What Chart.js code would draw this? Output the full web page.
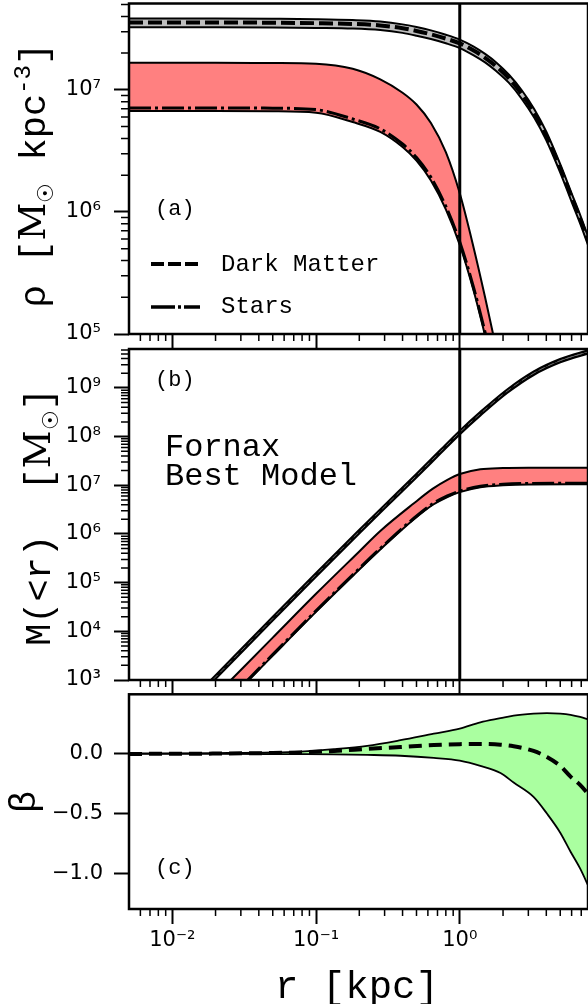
<!DOCTYPE html>
<html>
<head>
<meta charset="utf-8">
<script src="https://cdn.jsdelivr.net/npm/chart.js@4.4.1/dist/chart.umd.min.js"></script>
<style>
  html, body { margin: 0; padding: 0; background: #fff; }
  #wrap { position: relative; width: 588px; height: 1004px; overflow: hidden; }
  canvas { position: absolute; left: 0; }
</style>
</head>
<body>
<div id="wrap">
  <canvas id="rho" width="600" height="350" style="top:0px"></canvas>
  <canvas id="mass" width="600" height="356" style="top:340px"></canvas>
  <canvas id="beta" width="600" height="319" style="top:685px"></canvas>
</div>
<script>
// ---- data (r in kpc) ----
const X_MIN = 0.005, X_MAX = 7.8;
const rMarker = 1.0;

const xTickVals = [0.01, 0.1, 1];
const xTickText = ['10⁻²', '10⁻¹', '10⁰'];
const rhoTickVals = [1e5, 1e6, 1e7];
const rhoTickText = ['10⁵', '10⁶', '10⁷'];
const massTickVals = [1e3, 1e4, 1e5, 1e6, 1e7, 1e8, 1e9];
const massTickText = ['10³', '10⁴', '10⁵', '10⁶', '10⁷', '10⁸', '10⁹'];
const betaTickVals = [-1, -0.5, 0];
const betaTickText = ['−1.0', '−0.5', '0.0'];

// (a) density
const rRho = [0.005, 0.02, 0.05, 0.1, 0.18, 0.28, 0.4, 0.5, 0.63, 0.8, 1.0, 1.25, 1.5, 1.8, 2.2, 2.7, 3.3, 4.0, 5.0, 6.0, 7.0, 8.0];
const rhoDmHi  = [3.84e7, 3.84e7, 3.82e7, 3.79e7, 3.73e7, 3.63e7, 3.44e7, 3.27e7, 3.07e7, 2.83e7, 2.58e7, 2.26e7, 1.97e7, 1.67e7, 1.33e7, 9.93e6, 6.95e6, 4.54e6, 2.46e6, 1.42e6, 8.95e5, 5.78e5];
const rhoDmMid = [3.56e7, 3.56e7, 3.55e7, 3.52e7, 3.47e7, 3.37e7, 3.20e7, 3.04e7, 2.85e7, 2.63e7, 2.40e7, 2.10e7, 1.83e7, 1.55e7, 1.24e7, 9.23e6, 6.46e6, 4.22e6, 2.29e6, 1.32e6, 8.32e5, 5.37e5];
const rhoDmLo  = [3.26e7, 3.26e7, 3.25e7, 3.22e7, 3.18e7, 3.09e7, 2.93e7, 2.78e7, 2.61e7, 2.41e7, 2.20e7, 1.92e7, 1.68e7, 1.42e7, 1.14e7, 8.45e6, 5.92e6, 3.87e6, 2.10e6, 1.21e6, 7.62e5, 4.92e5];

const rRhoStar = [0.005, 0.02, 0.05, 0.1, 0.18, 0.28, 0.4, 0.5, 0.63, 0.8, 1.0, 1.25, 1.5, 1.8, 2.2];
const rhoStarHi  = [1.67e7, 1.67e7, 1.66e7, 1.64e7, 1.49e7, 1.22e7, 9.48e6, 7.59e6, 5.36e6, 3.09e6, 1.42e6, 5.07e5, 2.00e5, 7.46e4, 2.43e4];
const rhoStarMid = [7.11e6, 7.11e6, 7.08e6, 6.89e6, 5.77e6, 4.79e6, 3.60e6, 2.79e6, 1.92e6, 1.11e6, 5.68e5, 2.38e5, 1.03e5, 4.13e4, 1.43e4];
const rhoStarLo  = [6.71e6, 6.71e6, 6.68e6, 6.50e6, 5.45e6, 4.52e6, 3.40e6, 2.63e6, 1.81e6, 1.05e6, 5.36e5, 2.25e5, 9.70e4, 3.90e4, 1.35e4];

// (b) enclosed mass
const rMassDm = [0.005, 0.01, 0.02, 0.05, 0.1, 0.2, 0.3, 0.5, 0.734, 1.0, 1.39, 2.13, 3.26, 5.0, 8.0];
const massDmHi  = [19.5, 155, 1.23e3, 1.95e4, 1.55e5, 1.20e6, 3.88e6, 1.69e7, 5.24e7, 1.30e8, 3.16e8, 9.10e8, 2.14e9, 3.88e9, 6.01e9];
const massDmMid = [18.2, 145, 1.15e3, 1.82e4, 1.45e5, 1.12e6, 3.63e6, 1.58e7, 4.90e7, 1.22e8, 2.95e8, 8.51e8, 2.00e9, 3.63e9, 5.62e9];
const massDmLo  = [16.9, 135, 1.07e3, 1.69e4, 1.35e5, 1.04e6, 3.38e6, 1.47e7, 4.56e7, 1.13e8, 2.74e8, 7.92e8, 1.86e9, 3.38e9, 5.23e9];

const rMassStar = [0.005, 0.01, 0.02, 0.05, 0.1, 0.2, 0.28, 0.48, 0.65, 0.82, 1.0, 1.39, 2.0, 3.0, 8.0];
const massStarHi  = [7.41, 60.3, 479, 7.41e3, 5.89e4, 4.37e5, 1.15e6, 4.27e6, 8.51e6, 1.29e7, 1.70e7, 2.14e7, 2.26e7, 2.29e7, 2.29e7];
const massStarMid = [3.32, 26.4, 210, 3.32e3, 2.64e4, 1.95e5, 5.03e5, 2.10e6, 4.18e6, 6.04e6, 7.60e6, 9.58e6, 1.05e7, 1.09e7, 1.10e7];
const massStarLo  = [3.16, 25.1, 200, 3.16e3, 2.51e4, 1.86e5, 4.79e5, 2.00e6, 3.98e6, 5.75e6, 7.24e6, 9.12e6, 1.00e7, 1.04e7, 1.05e7];

// (c) anisotropy
const rBeta = [0.005, 0.02, 0.05, 0.078, 0.133, 0.227, 0.387, 0.66, 1.0, 1.39, 1.92, 2.37, 3.26, 4.04, 5.0, 5.9, 6.87, 8.0];
const betaHi  = [0.004, 0.007, 0.012, 0.02, 0.04, 0.068, 0.115, 0.17, 0.212, 0.265, 0.30, 0.322, 0.338, 0.342, 0.338, 0.328, 0.31, 0.285];
const betaMid = [0.0, 0.003, 0.008, 0.013, 0.025, 0.042, 0.058, 0.075, 0.082, 0.084, 0.078, 0.065, 0.025, -0.025, -0.10, -0.19, -0.26, -0.35];
const betaLo  = [0.0, 0.0, -0.001, -0.002, -0.004, -0.008, -0.015, -0.033, -0.056, -0.10, -0.16, -0.24, -0.36, -0.50, -0.66, -0.82, -0.96, -1.13];

// ---- styling ----
const MONO = "'Liberation Mono', 'DejaVu Sans Mono', monospace";
const SERIF = "'DejaVu Serif', 'Liberation Serif', serif";
Chart.defaults.font.family = "'DejaVu Sans', sans-serif";
Chart.defaults.color = '#000';

const GRAY = '#bebebe', RED = '#ff8080', GREEN = 'rgb(170,255,160)';
const DASH = [14, 5], DASHDOT = [22, 4, 3, 4];

function minorVals(lo, hi) {
  const out = [];
  for (let d = lo; d < hi; d *= 10) for (let k = 2; k <= 9; k++) out.push(k * d);
  return out;
}
const xMinor = minorVals(0.001, 10);

function pts(xs, ys) { return xs.map((x, i) => ({ x: x, y: ys[i] })); }
function ds(xs, ys, extra) {
  return Object.assign({
    data: pts(xs, ys), borderColor: '#000', borderWidth: 2, pointRadius: 0,
    fill: false, cubicInterpolationMode: 'monotone', clip: 0
  }, extra);
}
function vline(lo, hi) {
  return { data: [{ x: rMarker, y: lo }, { x: rMarker, y: hi }], borderColor: '#000', borderWidth: 3,
           pointRadius: 0, fill: false, tension: 0, clip: 0, order: 0 };
}

// keep the plot box exactly where layout.padding and afterFit put it
function noPad(s) { s.paddingTop = 0; s.paddingBottom = 0; s.paddingLeft = 0; s.paddingRight = 0; }

function xScale(showLabels, height) {
  return {
    type: 'logarithmic', position: 'bottom', min: X_MIN, max: X_MAX, bounds: 'data',
    afterBuildTicks: s => { s.ticks = xTickVals.map(v => ({ value: v })); },
    afterFit: s => { s.height = height; noPad(s); },
    grid: { drawOnChartArea: false, tickLength: 15, tickWidth: 2, tickColor: '#000' },
    border: { display: false },
    ticks: { display: showLabels, autoSkip: false, maxRotation: 0, padding: 4,
             font: { size: 21 }, color: '#000', callback: (v, i) => xTickText[i] }
  };
}
function yScale(type, min, max, vals, text, pad) {
  return {
    type: type, position: 'left', min: min, max: max, bounds: 'data',
    afterBuildTicks: s => { s.ticks = vals.map(v => ({ value: v })); },
    afterFit: s => { s.width = 129; noPad(s); },
    grid: { drawOnChartArea: false, tickLength: 15, tickWidth: 2, tickColor: '#000' },
    border: { display: false },
    ticks: { autoSkip: false, padding: pad, font: { size: 21 }, color: '#000',
             callback: (v, i) => text[i] }
  };
}

function rich(ctx, segs, cx, cy, size, rot) {
  ctx.save();
  ctx.translate(cx, cy);
  if (rot) ctx.rotate(-Math.PI / 2);
  ctx.textAlign = 'left';
  ctx.textBaseline = 'alphabetic';
  ctx.fillStyle = '#000';
  const fontOf = s => (size * (s.k || 1)) + 'px ' + (s.f || MONO);
  let total = 0;
  const w = segs.map(s => { ctx.font = fontOf(s); const m = ctx.measureText(s.t).width; total += m; return m; });
  let x = -total / 2;
  segs.forEach((s, i) => {
    ctx.font = fontOf(s);
    ctx.fillText(s.t, x, size * 0.33 + (s.dy || 0) * size);
    x += w[i];
  });
  ctx.restore();
}
function label(ctx, t, x, y, size) {
  ctx.save();
  ctx.font = size + 'px ' + MONO;
  ctx.fillStyle = '#000';
  ctx.textAlign = 'left';
  ctx.textBaseline = 'middle';
  ctx.fillText(t, x, y);
  ctx.restore();
}

function makeDecor(yMinor, extra) {
  return {
    id: 'decor',
    afterDraw(chart) {
      const ctx = chart.ctx, a = chart.chartArea;
      const xs = chart.scales.x, ys = chart.scales.y;
      ctx.save();
      ctx.strokeStyle = '#000';
      ctx.lineWidth = 1.5;
      ctx.beginPath();
      xMinor.forEach(v => {
        const p = xs.getPixelForValue(v);
        if (p > a.left + 1 && p < a.right - 1) { ctx.moveTo(p, a.bottom); ctx.lineTo(p, a.bottom + 7); }
      });
      yMinor.forEach(v => {
        const p = ys.getPixelForValue(v);
        if (p > a.top + 1 && p < a.bottom - 1) { ctx.moveTo(a.left - 8, p); ctx.lineTo(a.left, p); }
      });
      ctx.stroke();
      ctx.lineWidth = 2.5;
      ctx.strokeRect(a.left, a.top, a.right - a.left, a.bottom - a.top);
      ctx.restore();
      extra(ctx, a);
    }
  };
}

function baseOptions(pad, xs, ys) {
  return {
    responsive: false, animation: false, devicePixelRatio: 1,
    layout: { padding: pad },
    plugins: { legend: { display: false }, tooltip: { enabled: false },
               filler: { drawTime: 'beforeDatasetsDraw' } },
    scales: { x: xs, y: ys }
  };
}

// ---- (a) density ----
new Chart(document.getElementById('rho'), {
  type: 'line',
  data: { datasets: [
    ds(rRho, rhoDmHi, { fill: '+1', backgroundColor: GRAY, order: 5 }),
    ds(rRho, rhoDmLo, { order: 5 }),
    ds(rRho, rhoDmMid, { borderWidth: 4, borderDash: DASH, order: 3 }),
    ds(rRhoStar, rhoStarHi, { fill: '+1', backgroundColor: RED, order: 5 }),
    ds(rRhoStar, rhoStarLo, { order: 5 }),
    ds(rRhoStar, rhoStarMid, { borderWidth: 3, borderDash: DASHDOT, order: 3 }),
    vline(1e4, 1e9)
  ] },
  options: baseOptions({ top: 3.5, right: 12, left: 0, bottom: 0 },
    xScale(false, 16),
    yScale('logarithmic', 1e5, 5.1e7, rhoTickVals, rhoTickText, 13)),
  plugins: [makeDecor(minorVals(1e5, 1e8), (ctx, a) => {
    rich(ctx, [{ t: 'ρ [' }, { t: 'M', f: SERIF }, { t: '☉', f: SERIF, k: 0.6, dy: 0.2 },
               { t: ' kpc' }, { t: '-3', k: 0.65, dy: -0.42 }, { t: ']' }], 33, 175, 37, true);
    label(ctx, '(a)', 155, 209, 22);
    ctx.save();
    ctx.strokeStyle = '#000';
    ctx.lineWidth = 4; ctx.setLineDash([13, 4]);
    ctx.beginPath(); ctx.moveTo(151, 264); ctx.lineTo(200, 264); ctx.stroke();
    ctx.lineWidth = 3.5; ctx.setLineDash([24, 3, 3, 3]);
    ctx.beginPath(); ctx.moveTo(151, 307); ctx.lineTo(200, 307); ctx.stroke();
    ctx.restore();
    label(ctx, 'Dark Matter', 221, 265, 24);
    label(ctx, 'Stars', 221, 307, 24);
  })]
});

// ---- (b) enclosed mass ----
new Chart(document.getElementById('mass'), {
  type: 'line',
  data: { datasets: [
    ds(rMassDm, massDmHi, { fill: '+1', backgroundColor: GRAY, borderWidth: 2.5, order: 5 }),
    ds(rMassDm, massDmLo, { borderWidth: 2.5, order: 5 }),
    ds(rMassDm, massDmMid, { borderWidth: 1, borderDash: [6, 4], borderColor: '#666', order: 3 }),
    ds(rMassStar, massStarHi, { fill: '+1', backgroundColor: RED, order: 5 }),
    ds(rMassStar, massStarLo, { order: 5 }),
    ds(rMassStar, massStarMid, { borderWidth: 3, borderDash: DASHDOT, order: 3 }),
    vline(1e2, 1e10)
  ] },
  options: baseOptions({ top: 9, right: 12, left: 0, bottom: 0 },
    xScale(false, 16),
    yScale('logarithmic', 1e3, 6.3e9, massTickVals, massTickText, 13)),
  plugins: [makeDecor(minorVals(1e3, 1e10), (ctx, a) => {
    rich(ctx, [{ t: 'M(<r)  [' }, { t: 'M', f: SERIF }, { t: '☉', f: SERIF, k: 0.6, dy: 0.2 }, { t: ']' }],
         38, 177, 37, true);
    label(ctx, '(b)', 155, 40, 22);
    label(ctx, 'Fornax', 165, 108, 32);
    label(ctx, 'Best Model', 165, 137, 32);
  })]
});

// ---- (c) anisotropy ----
new Chart(document.getElementById('beta'), {
  type: 'line',
  data: { datasets: [
    ds(rBeta, betaHi, { fill: '+1', backgroundColor: GREEN, borderWidth: 1.8, order: 5 }),
    ds(rBeta, betaLo, { borderWidth: 1.8, order: 5 }),
    ds(rBeta, betaMid, { borderWidth: 4, borderDash: [13, 7], order: 3 })
  ] },
  options: baseOptions({ top: 9.3, right: 12, left: 0, bottom: 0 },
    xScale(true, 95),
    yScale('linear', -1.3, 0.5, betaTickVals, betaTickText, 11)),
  plugins: [makeDecor([], (ctx, a) => {
    rich(ctx, [{ t: 'β' }], 23, 117, 37, true);
    label(ctx, '(c)', 155, 183, 22);
    rich(ctx, [{ t: 'r [kpc]' }], 357, 300, 39, false);
  })]
});
</script>
</body>
</html>
